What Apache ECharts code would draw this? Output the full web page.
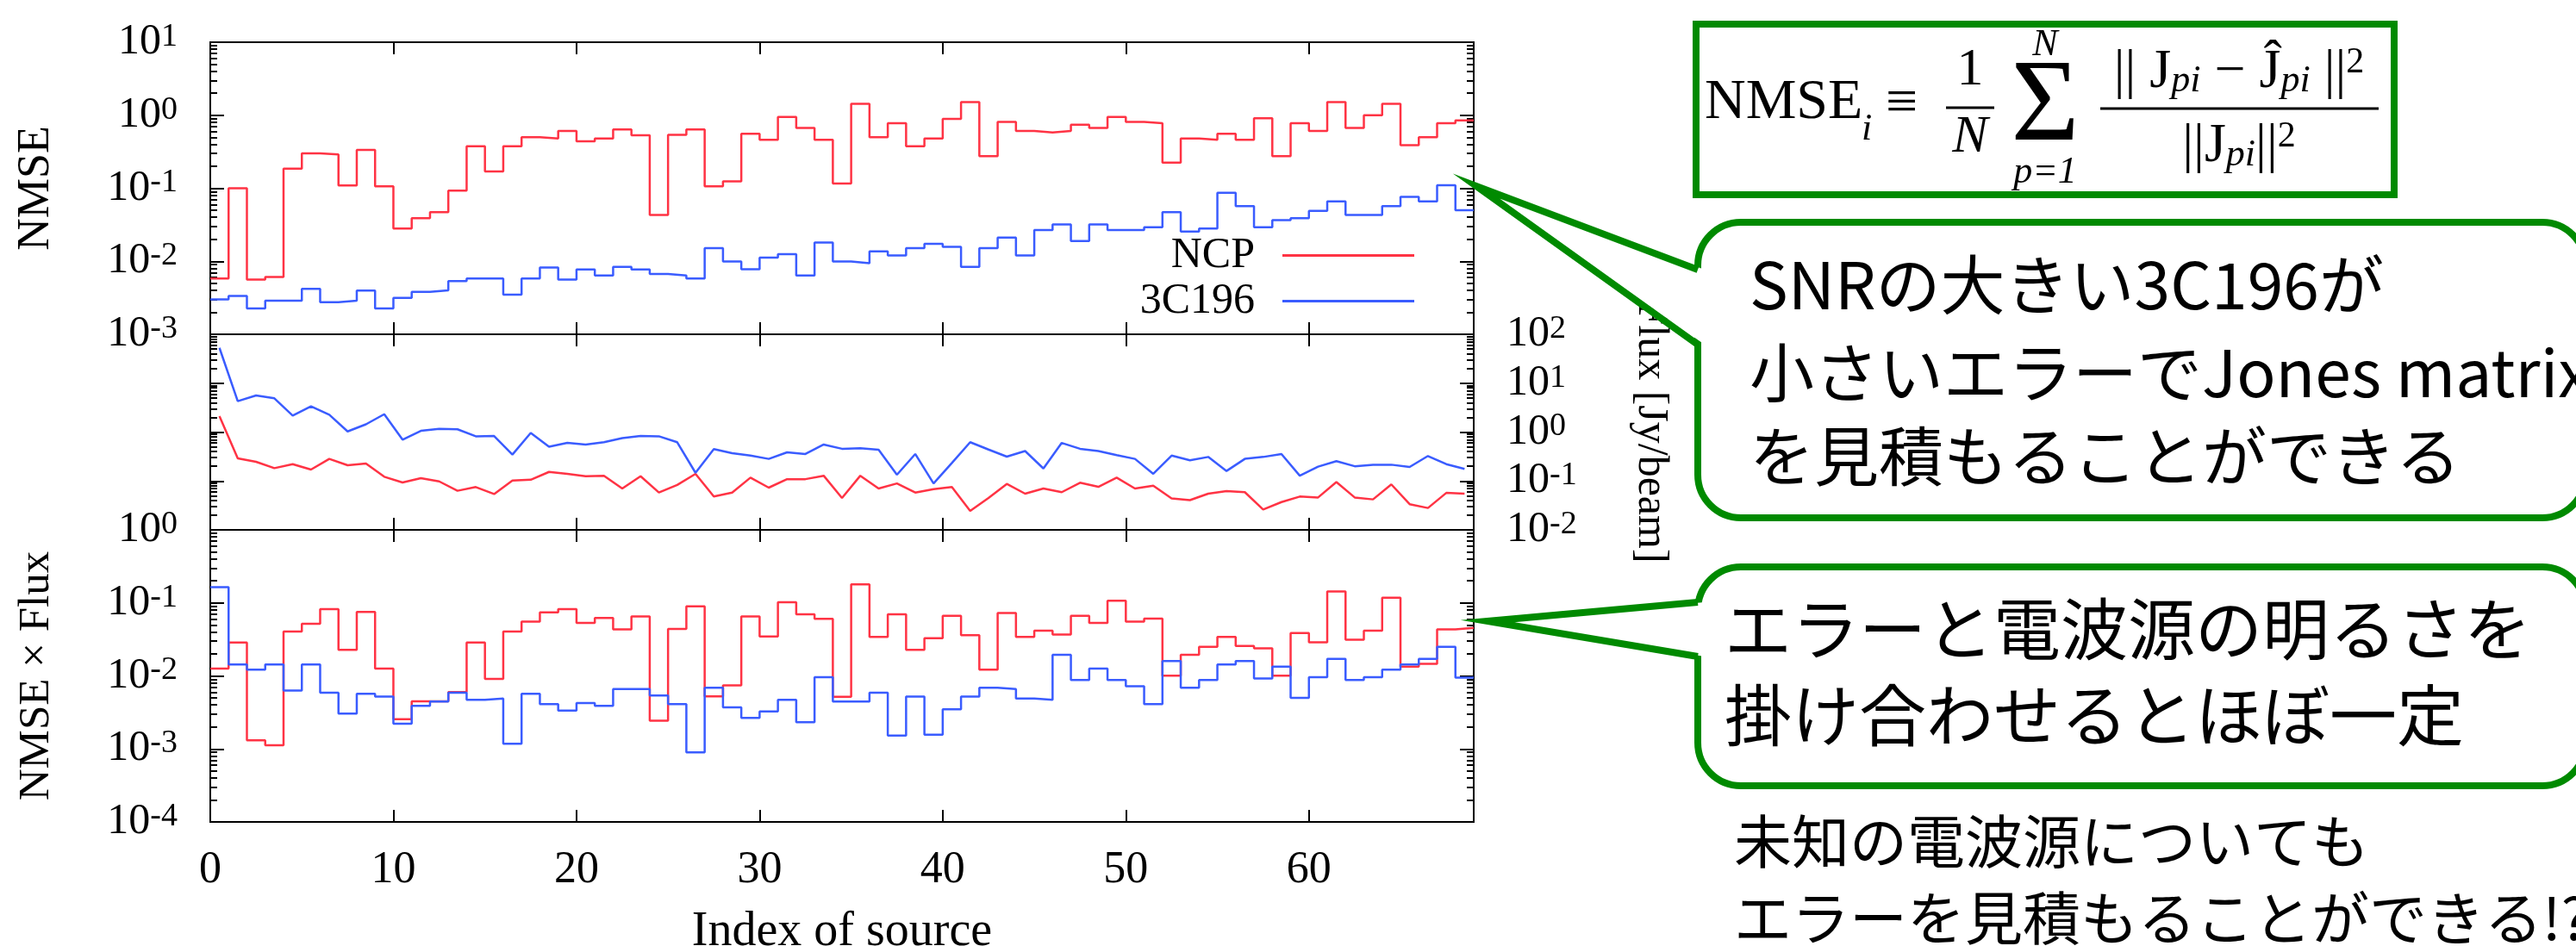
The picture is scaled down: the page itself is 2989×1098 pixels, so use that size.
<!DOCTYPE html>
<html><head><meta charset="utf-8">
<script src="https://cdn.jsdelivr.net/npm/echarts@6/dist/echarts.min.js"></script>
<style>html,body{margin:0;padding:0;background:#fff}#c{width:2989px;height:1098px}</style>
</head><body><div id="c"></div>
<script>
// ---------------- data ----------------
const sourceIndex = Array.from({length: 69}, (_, i) => i);

const ncpNmse = [0.0058, 0.10, 0.0056, 0.0061, 0.186, 0.30, 0.29, 0.109, 0.335, 0.106,
  0.028, 0.039, 0.047, 0.093, 0.377, 0.17, 0.377, 0.50, 0.48, 0.61,
  0.44, 0.48, 0.64, 0.53, 0.043, 0.54, 0.64, 0.106, 0.124, 0.556,
  0.46, 0.95, 0.67, 0.46, 0.116, 1.43, 0.50, 0.78, 0.377, 0.48,
  0.89, 1.51, 0.275, 0.81, 0.61, 0.58, 0.61, 0.74, 0.67, 0.95,
  0.81, 0.78, 0.225, 0.48, 0.46, 0.556, 0.46, 0.91, 0.275, 0.78,
  0.61, 1.51, 0.67, 1.0, 1.43, 0.39, 0.50, 0.78, 0.85];

const c196Nmse = [0.0030, 0.00334, 0.00226, 0.00288, 0.00288, 0.0042, 0.00276, 0.00288, 0.00396, 0.00226,
  0.00316, 0.0038, 0.0040, 0.00535, 0.0058, 0.0058, 0.0035, 0.0058, 0.0082, 0.0056,
  0.0077, 0.0064, 0.0084, 0.0077, 0.0067, 0.0064, 0.0058, 0.0151, 0.0099, 0.0078,
  0.0112, 0.0125, 0.0064, 0.018, 0.0099, 0.0094, 0.0137, 0.012, 0.0151, 0.0173,
  0.0158, 0.0084, 0.0151, 0.0211, 0.012, 0.0268, 0.032, 0.019, 0.032, 0.0268,
  0.0268, 0.0293, 0.047, 0.0256, 0.028, 0.087, 0.057, 0.0293, 0.0367, 0.039,
  0.049, 0.066, 0.043, 0.043, 0.057, 0.076, 0.066, 0.11, 0.050];

const ncpFlux = [2.11, 0.29, 0.247, 0.183, 0.221, 0.171, 0.283, 0.21, 0.228, 0.122,
  0.093, 0.114, 0.098, 0.063, 0.075, 0.054, 0.102, 0.106, 0.153, 0.14,
  0.125, 0.128, 0.07, 0.125, 0.058, 0.083, 0.14, 0.048, 0.058, 0.117,
  0.073, 0.109, 0.109, 0.128, 0.045, 0.128, 0.07, 0.089, 0.058, 0.068,
  0.075, 0.0245, 0.045, 0.087, 0.055, 0.07, 0.059, 0.092, 0.076, 0.117,
  0.07, 0.08, 0.044, 0.0405, 0.055, 0.062, 0.059, 0.026, 0.037, 0.048,
  0.046, 0.095, 0.046, 0.042, 0.085, 0.0335, 0.028, 0.057, 0.055];

const c196Flux = [52.8, 4.28, 5.6, 4.9, 2.17, 3.35, 2.26, 1.03, 1.44, 2.32,
  0.70, 1.06, 1.16, 1.14, 0.82, 0.83, 0.347, 0.96, 0.50, 0.60,
  0.557, 0.62, 0.75, 0.83, 0.82, 0.62, 0.147, 0.45, 0.37, 0.33,
  0.283, 0.386, 0.356, 0.557, 0.455, 0.468, 0.437, 0.134, 0.356, 0.089,
  0.234, 0.62, 0.44, 0.315, 0.41, 0.18, 0.60, 0.455, 0.41, 0.337,
  0.283, 0.14, 0.33, 0.264, 0.31, 0.16, 0.283, 0.31, 0.356, 0.128,
  0.196, 0.254, 0.20, 0.215, 0.215, 0.193, 0.324, 0.221, 0.176];

const ncpProd = [0.0126, 0.0286, 0.00131, 0.00112, 0.0404, 0.0516, 0.082, 0.0228, 0.075, 0.0126,
  0.00255, 0.0045, 0.0045, 0.006, 0.0286, 0.0091, 0.0404, 0.0555, 0.074, 0.082,
  0.053, 0.062, 0.0435, 0.065, 0.00243, 0.044, 0.0897, 0.00525, 0.0074, 0.065,
  0.0346, 0.102, 0.070, 0.0605, 0.00516, 0.179, 0.0343, 0.0697, 0.0228, 0.0328,
  0.0665, 0.0362, 0.0122, 0.0728, 0.0343, 0.0415, 0.0369, 0.0665, 0.053, 0.107,
  0.0555, 0.0607, 0.0101, 0.0195, 0.025, 0.0343, 0.0257, 0.0239, 0.0101, 0.0386,
  0.0289, 0.143, 0.0313, 0.0415, 0.118, 0.0134, 0.0146, 0.0435, 0.0454];

const c196Prod = [0.164, 0.0143, 0.0122, 0.0143, 0.0063, 0.0143, 0.0059, 0.00305, 0.0057, 0.0052,
  0.00222, 0.0039, 0.00447, 0.0059, 0.0047, 0.0049, 0.00118, 0.0057, 0.0041, 0.00334,
  0.00426, 0.0039, 0.0066, 0.0066, 0.0054, 0.0041, 0.0009, 0.0069, 0.0037, 0.00266,
  0.00325, 0.0047, 0.00232, 0.0096, 0.00447, 0.00447, 0.0059, 0.00152, 0.0052, 0.00157,
  0.0035, 0.0052, 0.0069, 0.0066, 0.0049, 0.0047, 0.0195, 0.0088, 0.0126, 0.0088,
  0.0072, 0.0041, 0.016, 0.0069, 0.0088, 0.0143, 0.016, 0.0092, 0.0134, 0.005,
  0.0096, 0.0171, 0.0088, 0.0096, 0.0122, 0.0143, 0.0171, 0.025, 0.0095];

const xTickValues = [0, 10, 20, 30, 40, 50, 60];
const topDecades = [1e-3, 1e-2, 1e-1, 1, 10];
const midDecades = [1e-2, 1e-1, 1, 10, 100];
const botDecades = [1e-4, 1e-3, 1e-2, 1e-1, 1];

// ---------------- helpers ----------------
const RED = '#ff3344', BLUE = '#3a5cff', GREEN = '#008a00';
const SERIF = '"Liberation Serif", "Times New Roman", serif';
const JP = '"Noto Sans CJK JP", sans-serif';

function minorTicks(decades) {
  const out = [];
  for (let k = 0; k < decades.length - 1; k++)
    for (let m = 2; m <= 9; m++) out.push(+(m * decades[k]).toPrecision(6));
  return out;
}
function stepData(vals) {
  const d = vals.map((v, i) => [sourceIndex[i], v]);
  d.push([sourceIndex[vals.length - 1] + 1, vals[vals.length - 1]]);
  return d;
}
function midData(vals) { return vals.map((v, i) => [sourceIndex[i] + 0.5, v]); }

const powRich = {
  b: {fontFamily: SERIF, fontSize: 50, lineHeight: 50, verticalAlign: 'bottom', color: '#000'},
  e: {fontFamily: SERIF, fontSize: 38, lineHeight: 38, verticalAlign: 'top', padding: [0, 0, 30, 0], color: '#000'}
};
function powFmt(v) { return '{b|10}{e|' + Math.round(Math.log10(v)) + '}'; }

const grids = [
  {left: 244, top: 49, width: 1466, height: 339},
  {left: 244, top: 388, width: 1466, height: 227},
  {left: 244, top: 615, width: 1466, height: 339}
].map(g => Object.assign(g, {show: true, borderColor: '#000', borderWidth: 2, backgroundColor: 'transparent',
  containLabel: false, outerBoundsMode: 'none'}));

const xAxes = [];
for (let g = 0; g < 3; g++) {
  for (const pos of ['bottom', 'top']) {
    const lab = (g === 2 && pos === 'bottom');
    const ax = {
      type: 'value', gridIndex: g, position: pos, min: 0, max: 69, interval: 10,
      axisLine: {show: false}, splitLine: {show: false},
      axisTick: {show: true, inside: true, length: 14, customValues: xTickValues, lineStyle: {color: '#000', width: 2}},
      axisLabel: {show: lab, customValues: xTickValues, margin: 30, fontFamily: SERIF, fontSize: 52, color: '#000'}
    };
    if (lab) {
      ax.name = 'Index of source'; ax.nameLocation = 'middle'; ax.nameGap = 100; ax.nameMoveOverlap = false;
      ax.nameTextStyle = {fontFamily: SERIF, fontSize: 56, color: '#000'};
    }
    xAxes.push(ax);
  }
}

const decadeSets = [topDecades, midDecades, botDecades];
const yAxes = [];
for (let g = 0; g < 3; g++) {
  const decs = decadeSets[g];
  const base = {type: 'log', logBase: 10, gridIndex: g, min: decs[0], max: decs[decs.length - 1],
    axisLine: {show: false}, splitLine: {show: false}};
  for (const pos of ['left', 'right']) {
    const showLab = (pos === 'left') ? g !== 1 : g === 1;
    // alternate decades go on two overlaid axes so neighbouring labels never collide
    const mainLabels = showLab && g === 1 ? decs.filter((d, k) => k % 2 === 0) : decs;
    const minorLabels = showLab && g === 1 ? decs.filter((d, k) => k % 2 === 1) : [];
    const labelCommon = {formatter: powFmt, rich: powRich, margin: 38,
      showMinLabel: true, showMaxLabel: true, hideOverlap: false};
    const main = Object.assign({}, base, {
      position: pos,
      axisTick: {show: true, inside: true, length: 16, customValues: decs, lineStyle: {color: '#000', width: 2}},
      axisLabel: Object.assign({show: showLab, customValues: mainLabels}, labelCommon)
    });
    if (pos === 'left' && g === 0) {
      Object.assign(main, {name: 'NMSE', nameLocation: 'middle', nameGap: 176, nameMoveOverlap: false,
        nameTextStyle: {fontFamily: SERIF, fontSize: 52, color: '#000'}});
    }
    if (pos === 'left' && g === 2) {
      Object.assign(main, {name: 'NMSE × Flux', nameLocation: 'middle', nameGap: 176, nameMoveOverlap: false,
        nameTextStyle: {fontFamily: SERIF, fontSize: 51, color: '#000'}});
    }
    if (pos === 'right' && g === 1) {
      Object.assign(main, {name: 'Flux [Jy/beam]', nameLocation: 'middle', nameGap: 180, nameRotate: -90,
        nameMoveOverlap: false, nameTextStyle: {fontFamily: SERIF, fontSize: 50, color: '#000'}});
    }
    const minor = Object.assign({}, base, {
      position: pos,
      axisTick: {show: true, inside: true, length: 8, customValues: minorTicks(decs), lineStyle: {color: '#000', width: 2}},
      axisLabel: Object.assign({show: minorLabels.length > 0, customValues: minorLabels.length ? minorLabels : decs}, labelCommon)
    });
    yAxes.push(main, minor);
  }
}

function lineSeries(name, color, data, xi, yi, step) {
  return {name, type: 'line', xAxisIndex: xi, yAxisIndex: yi, data, step: step ? 'end' : false,
    symbol: 'none', showSymbol: false, lineStyle: {color, width: 2.5}, itemStyle: {color},
    animation: false, z: 3};
}

const series = [
  lineSeries('NCP', RED, stepData(ncpNmse), 0, 0, true),
  lineSeries('3C196', BLUE, stepData(c196Nmse), 0, 0, true),
  lineSeries('NCP', RED, midData(ncpFlux), 2, 4, false),
  lineSeries('3C196', BLUE, midData(c196Flux), 2, 4, false),
  lineSeries('NCP', RED, stepData(ncpProd), 4, 8, true),
  lineSeries('3C196', BLUE, stepData(c196Prod), 4, 8, true)
];

// ---------------- annotations ----------------
function txt(x, y, text, size, opts) {
  return Object.assign({type: 'text', x, y, z: 20,
    style: Object.assign({text, fontFamily: JP, fontSize: size, fill: '#000', align: 'left', verticalAlign: 'middle'}, opts || {})});
}
function callout(box, tip, attTop, attBot, z) {
  return [
    {type: 'rect', z: z, shape: Object.assign({r: 50}, box), style: {fill: '#fff', stroke: GREEN, lineWidth: 8}},
    {type: 'polygon', z: z + 1, shape: {points: [[box.x + 8, attTop], tip, [box.x + 8, attBot]]}, style: {fill: '#fff'}},
    {type: 'polyline', z: z + 2, shape: {points: [[box.x, attTop], tip, [box.x, attBot]]},
      style: {stroke: GREEN, lineWidth: 8, fill: null, lineJoin: 'miter'}}
  ];
}
const mathRich = {
  n: {fontFamily: SERIF, fontSize: 64, lineHeight: 64, verticalAlign: 'middle', color: '#000'},
  s: {fontFamily: SERIF, fontStyle: 'italic', fontSize: 44, lineHeight: 44, verticalAlign: 'bottom', padding: [30, 0, 0, 0], color: '#000'},
  p: {fontFamily: SERIF, fontSize: 42, lineHeight: 42, verticalAlign: 'top', padding: [0, 0, 34, 0], color: '#000'}
};
const graphic = [
  {type: 'rect', z: 10, shape: {x: 1968, y: 28, width: 810, height: 198}, style: {fill: '#fff', stroke: GREEN, lineWidth: 8}},
  txt(1978, 120, 'NMSE', 66, {fontFamily: SERIF}),
  txt(2160, 150, 'i', 44, {fontFamily: SERIF, fontStyle: 'italic'}),
  txt(2188, 122, '≡', 66, {fontFamily: SERIF}),
  txt(2286, 82, '1', 62, {fontFamily: SERIF, align: 'center'}),
  {type: 'line', z: 20, shape: {x1: 2258, y1: 125, x2: 2314, y2: 125}, style: {stroke: '#000', lineWidth: 3}},
  txt(2286, 160, 'N', 62, {fontFamily: SERIF, fontStyle: 'italic', align: 'center'}),
  txt(2373, 126, 'Σ', 136, {fontFamily: SERIF, align: 'center'}),
  txt(2373, 52, 'N', 44, {fontFamily: SERIF, fontStyle: 'italic', align: 'center'}),
  txt(2373, 200, 'p=1', 44, {fontFamily: SERIF, fontStyle: 'italic', align: 'center'}),
  txt(2598, 84, '{n||| J}{s|pi}{n| − Ĵ}{s|pi}{n| ||}{p|2}', 64, {fontFamily: SERIF, align: 'center', rich: mathRich}),
  {type: 'line', z: 20, shape: {x1: 2437, y1: 126, x2: 2760, y2: 126}, style: {stroke: '#000', lineWidth: 3}},
  txt(2598, 170, '{n|||J}{s|pi}{n|||}{p|2}', 64, {fontFamily: SERIF, align: 'center', rich: mathRich}),

  ...callout({x: 1970, y: 258, width: 1030, height: 343}, [1713, 216], 313, 400, 10),
  txt(2030, 330, 'SNRの大きい3C196が', 75),
  txt(2030, 432, '小さいエラーでJones matrix', 75),
  txt(2030, 529, 'を見積もることができる', 75),

  ...callout({x: 1970, y: 658, width: 1030, height: 254}, [1726, 721], 699, 762, 10),
  txt(2001, 730, 'エラーと電波源の明るさを', 78),
  txt(2001, 830, '掛け合わせるとほぼ一定', 78),

  txt(2012, 977, '未知の電波源についても', 67),
  txt(2012, 1066, 'エラーを見積もることができる!?', 67)
];

const chart = echarts.init(document.getElementById('c'), null, {renderer: 'canvas'});
chart.setOption({
  backgroundColor: '#fff',
  animation: false,
  grid: grids,
  xAxis: xAxes,
  yAxis: yAxes,
  legend: {
    data: ['NCP', '3C196'], orient: 'vertical', right: 1348, top: 270, align: 'right',
    itemWidth: 153, itemHeight: 3, itemGap: 0, icon: 'rect', padding: 0, selectedMode: false,
    textStyle: {fontFamily: SERIF, fontSize: 50, lineHeight: 53, color: '#000', padding: [0, 27, 0, 0]}
  },
  series,
  graphic
});
</script>
</body></html>
